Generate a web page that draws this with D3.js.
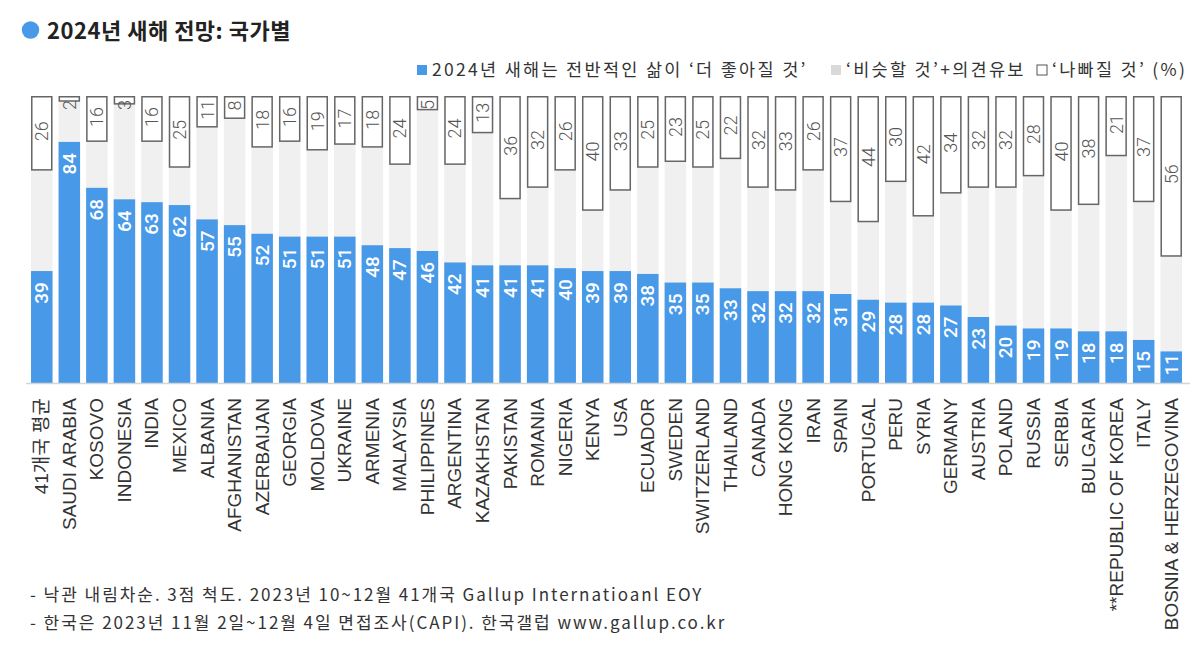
<!DOCTYPE html>
<html><head><meta charset="utf-8">
<script src="https://cdn.jsdelivr.net/npm/d3@7"></script>
<style>
body{margin:0;background:#fff;}
svg{display:block;}
</style></head>
<body>
<svg id="chart" width="1200" height="667"></svg>
<script>
const categories = ["41개국 평균","SAUDI ARABIA","KOSOVO","INDONESIA","INDIA","MEXICO","ALBANIA","AFGHANISTAN","AZERBAIJAN","GEORGIA","MOLDOVA","UKRAINE","ARMENIA","MALAYSIA","PHILIPPINES","ARGENTINA","KAZAKHSTAN","PAKISTAN","ROMANIA","NIGERIA","KENYA","USA","ECUADOR","SWEDEN","SWITZERLAND","THAILAND","CANADA","HONG KONG","IRAN","SPAIN","PORTUGAL","PERU","SYRIA","GERMANY","AUSTRIA","POLAND","RUSSIA","SERBIA","BULGARIA","**REPUBLIC OF KOREA","ITALY","BOSNIA & HERZEGOVINA"];
const better = [39,84,68,64,63,62,57,55,52,51,51,51,48,47,46,42,41,41,41,40,39,39,38,35,35,33,32,32,32,31,29,28,28,27,23,20,19,19,18,18,15,11];
const worse  = [26,2,16,3,16,25,11,8,18,16,19,17,18,24,5,24,13,36,32,26,40,33,25,23,25,22,32,33,26,37,44,30,42,34,32,32,28,40,38,21,37,56];
const legendLabels = ["2024년 새해는 전반적인 삶이 ‘더 좋아질 것’","‘비슷할 것’+의견유보","‘나빠질 것’ (%)"];
const titleText = "2024년 새해 전망: 국가별";
const notes = ["- 낙관 내림차순. 3점 척도. 2023년 10~12월 41개국 Gallup Internatioanl EOY","- 한국은 2023년 11월 2일~12월 4일 면접조사(CAPI). 한국갤럽 www.gallup.co.kr"];

const BLUE = "#4899e8", GRAY = "#f0f0f0", FONT = "'Noto Sans CJK KR','Noto Sans',sans-serif";
const svg = d3.select("#chart");
const data = categories.map((c,i)=>({c, b:better[i], w:worse[i]}));

const x = d3.scaleBand().domain(categories).range([28,1185]).paddingInner(0.22).paddingOuter(0.11);
const y = d3.scaleLinear().domain([0,100]).range([383,96]);
const bw = x.bandwidth();

// title
svg.append("circle").attr("cx",30.5).attr("cy",30).attr("r",8.7).attr("fill",BLUE);
svg.append("text").attr("x",47).attr("y",39).attr("font-family",FONT).attr("font-weight",700)
  .attr("font-size",22).attr("letter-spacing",0.5).attr("fill","#222").text(titleText);

// legend
const lg = svg.append("g").attr("font-family",FONT).attr("font-size",17.5).attr("letter-spacing",2.3).attr("fill","#333");
const legendItems = [
  {x:417, fill:BLUE, stroke:"none", t:legendLabels[0]},
  {x:831, fill:"#d9d9d9", stroke:"none", t:legendLabels[1]},
  {x:1037, fill:"#fff", stroke:"#555", t:legendLabels[2]}
];
legendItems.forEach(d=>{
  lg.append("rect").attr("x",d.x).attr("y",65).attr("width",10).attr("height",10)
    .attr("fill",d.fill).attr("stroke",d.stroke);
  lg.append("text").attr("x",d.x+15).attr("y",76).text(d.t);
});

// gray columns
svg.append("g").selectAll("rect").data(data).join("rect")
  .attr("x",d=>x(d.c)).attr("width",bw)
  .attr("y",y(100)).attr("height",y(0)-y(100)).attr("fill",GRAY);

// worse boxes
svg.append("g").selectAll("rect").data(data).join("rect")
  .attr("x",d=>x(d.c)+0.75).attr("width",bw-1.5)
  .attr("y",y(100)+0.75).attr("height",d=>y(100-d.w)-y(100)-1.5)
  .attr("fill","#fff").attr("stroke","#666").attr("stroke-width",1.5);

// better bars
svg.append("g").selectAll("rect").data(data).join("rect")
  .attr("x",d=>x(d.c)).attr("width",bw)
  .attr("y",d=>y(d.b)).attr("height",d=>y(0)-y(d.b)).attr("fill",BLUE);

// baseline
svg.append("line").attr("x1",26).attr("x2",1190).attr("y1",383.5).attr("y2",383.5)
  .attr("stroke","#d5d5d5").attr("stroke-width",1.5);

// better labels
svg.append("g").selectAll("text").data(data).join("text")
  .attr("transform",d=>`translate(${x(d.c)+bw/2},${Math.min(y(d.b)+11, y(0)-29)}) rotate(-90)`)
  .attr("text-anchor","end").attr("dominant-baseline","central")
  .attr("font-family","Roboto,sans-serif").attr("font-size",19).attr("font-weight",500)
  .attr("fill","#fff").text(d=>d.b);

// worse labels
svg.append("g").selectAll("text").data(data).join("text")
  .attr("transform",d=>{
    const top=y(100), h=y(100-d.w)-top;
    return `translate(${x(d.c)+bw/2},${top+Math.max(h/2-2,9)}) rotate(-90)`;})
  .attr("text-anchor","middle").attr("dominant-baseline","central")
  .attr("font-family","Roboto,sans-serif").attr("font-size",18).attr("font-weight",300)
  .attr("fill","#555").text(d=>d.w);

// x axis labels
const xAxis = d3.axisBottom(x).tickSize(0).tickPadding(0);
const ax = svg.append("g").attr("transform","translate(0,384)").call(xAxis);
ax.select(".domain").remove();
ax.selectAll("text")
  .attr("transform","translate(0,14) rotate(-90)")
  .attr("x",0).attr("y",0).attr("dy",null)
  .attr("text-anchor","end").attr("dominant-baseline","central")
  .attr("font-family","'Liberation Sans','Noto Sans CJK KR',sans-serif").attr("font-size",19)
  .attr("fill","#333");

// notes
svg.append("g").attr("font-family",FONT).attr("font-size",17).attr("letter-spacing",1.95).attr("fill","#333")
  .selectAll("text").data(notes).join("text")
  .attr("x",30).attr("y",(d,i)=>601+i*28).text(d=>d);
</script>
</body></html>
